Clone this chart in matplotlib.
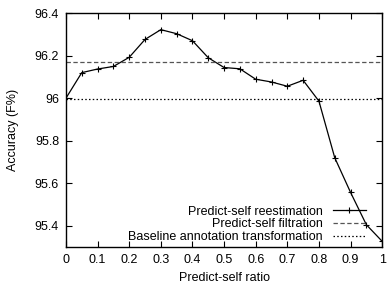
import matplotlib
matplotlib.use('Agg')
import matplotlib.pyplot as plt

plt.rcParams['font.family'] = ['Liberation Sans', 'DejaVu Sans']
plt.rcParams['font.size'] = 9

ratio = [0, 0.05, 0.1, 0.15, 0.2, 0.25, 0.3, 0.35, 0.4, 0.45, 0.5,
         0.55, 0.6, 0.65, 0.7, 0.75, 0.8, 0.85, 0.9, 0.95, 1.0]
reestimation = [96.0, 96.12, 96.137, 96.149, 96.192, 96.276, 96.322, 96.303,
                96.27, 96.19, 96.144, 96.138, 96.089, 96.076, 96.056, 96.084,
                95.986, 95.72, 95.557, 95.405, 95.327]
filtration = 96.171
baseline = 95.995

fig = plt.figure(figsize=(3.88, 2.84), dpi=100)
ax = fig.add_axes([0.170, 0.130, 0.815, 0.824])

ax.plot(ratio, reestimation, color='black', lw=0.9, marker='+', ms=5, mew=0.8,
        label='Predict-self reestimation')
ax.axhline(filtration, color='#555555', lw=0.9, ls=(0, (3.5, 2)),
           label='Predict-self filtration')
ax.axhline(baseline, color='black', lw=0.9, ls=(0, (1.2, 1.8)),
           label='Baseline annotation transformation')

ax.set_xlim(0, 1)
ax.set_ylim(95.3, 96.4)
ax.set_xticks([0, 0.1, 0.2, 0.3, 0.4, 0.5, 0.6, 0.7, 0.8, 0.9, 1])
ax.set_xticklabels(['0', '0.1', '0.2', '0.3', '0.4', '0.5', '0.6', '0.7', '0.8', '0.9', '1'])
ax.set_yticks([95.4, 95.6, 95.8, 96.0, 96.2, 96.4])
ax.set_yticklabels(['95.4', '95.6', '95.8', '96', '96.2', '96.4'])
ax.tick_params(direction='in', top=True, right=True, length=4, width=0.8, pad=5)
for s in ax.spines.values():
    s.set_linewidth(1.0)

ax.set_xlabel('Predict-self ratio', labelpad=4)
ax.set_ylabel('Accuracy (F%)', labelpad=11)

ax.legend(loc='lower right', bbox_to_anchor=(0.976, -0.02), frameon=False,
          markerfirst=False, numpoints=1, handlelength=2.64, handletextpad=0.8,
          labelspacing=0.05, borderpad=0.2)

fig.savefig('out.png', dpi=100)
